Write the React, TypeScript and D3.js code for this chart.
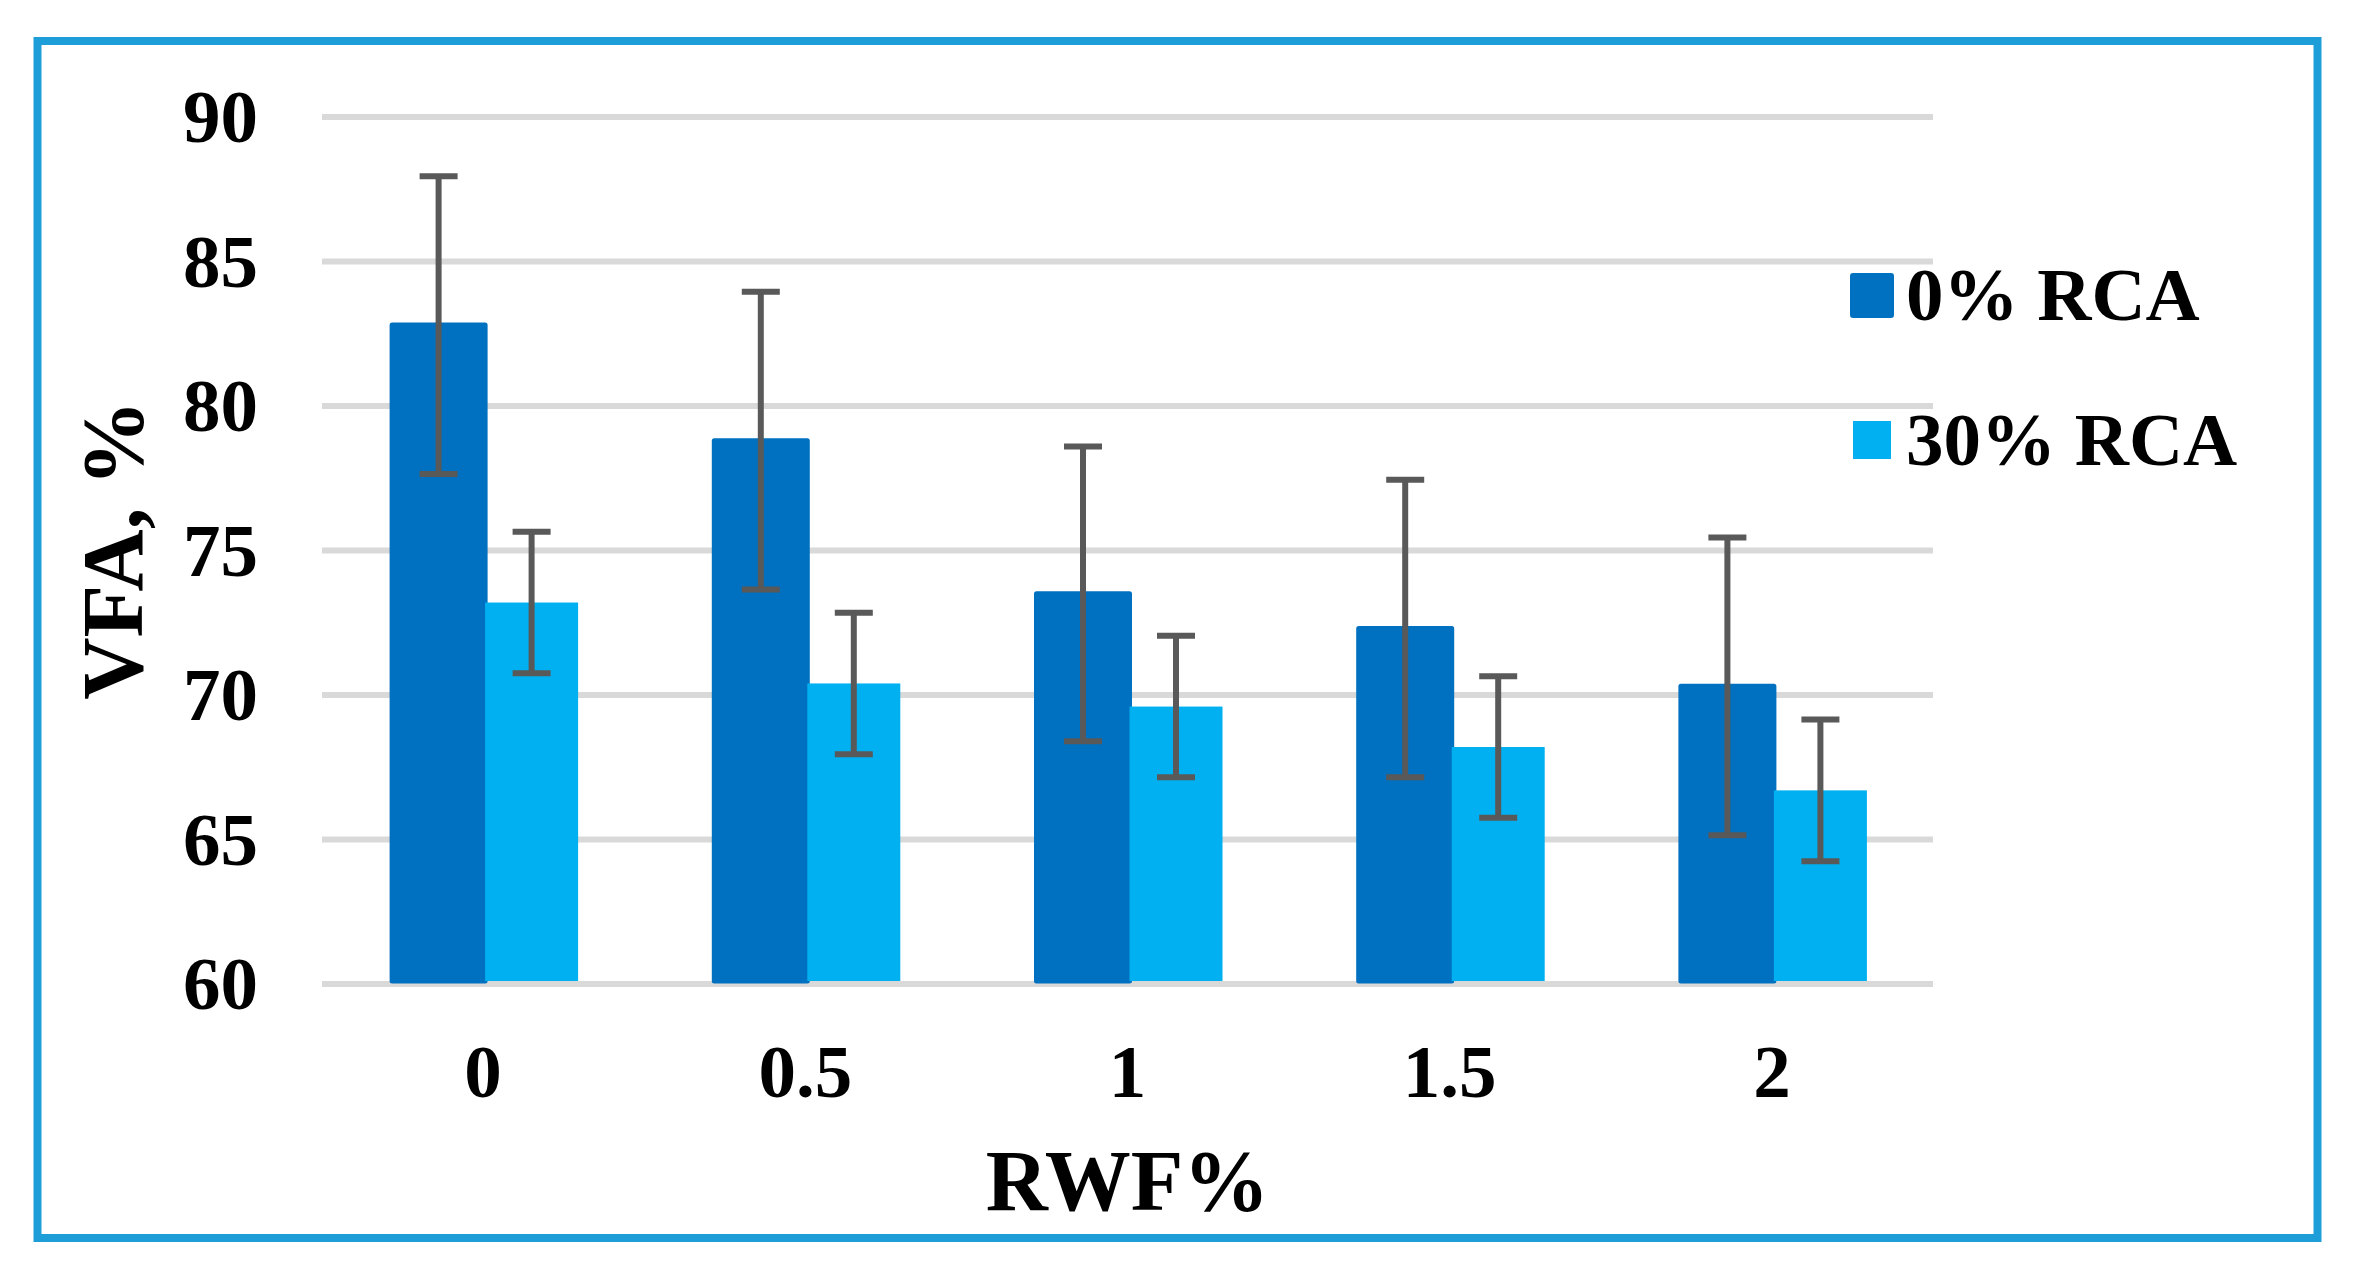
import React from "react";
import * as d3 from "d3";

const categories = ["0", "0.5", "1", "1.5", "2"];
const seriesNames = ["0% RCA", "30% RCA"];
const rca0Values = [82.8, 78.8, 73.5, 72.3, 70.3];
const rca0Errors = [5.15, 5.15, 5.1, 5.15, 5.15];
const rca30Values = [73.2, 70.4, 69.6, 68.2, 66.7];
const rca30Errors = [2.45, 2.45, 2.45, 2.45, 2.45];
const yTicks = [60, 65, 70, 75, 80, 85, 90];

const W = 2353;
const H = 1273;
const colors = ["#0070C0", "#00B0F0"];
const FONT = "'Liberation Serif', 'Times New Roman', serif";

export default function App() {
  const x0 = d3.scaleBand<string>().domain(categories).range([322, 1933]).padding(0);
  const x1 = d3.scaleBand<string>().domain(seriesNames).range([-91, 95]).padding(0);
  const y = d3.scaleLinear().domain([60, 90]).range([984, 117]);
  const bw = x1.bandwidth();
  const values = [rca0Values, rca30Values];
  const errors = [rca0Errors, rca30Errors];
  const center = (c: string) => (x0(c) as number) + x0.bandwidth() / 2;
  const capHalf = 19;

  return (
    <svg
      width={W}
      height={H}
      viewBox={`0 0 ${W} ${H}`}
      style={{ position: "absolute", left: 0, top: 0, background: "#fff" }}
    >
      <rect x={0} y={0} width={W} height={H} fill="#fff" />
      {/* gridlines */}
      {yTicks.map((t) => (
        <line
          key={"g" + t}
          x1={x0.range()[0]}
          x2={x0.range()[1]}
          y1={y(t)}
          y2={y(t)}
          stroke="#D9D9D9"
          strokeWidth={6}
        />
      ))}
      {/* bars */}
      {seriesNames.map((s, si) =>
        categories.map((c, ci) => {
          const bx = center(c) + (x1(s) as number);
          const top = y(values[si][ci]);
          const bottom = y(60) - 3;
          return (
            <rect
              key={s + c}
              x={bx}
              y={top}
              width={bw}
              height={bottom - top}
              fill={colors[si]}
              stroke={si === 0 ? colors[si] : "none"}
              strokeWidth={si === 0 ? 5 : 0}
              strokeLinejoin="round"
            />
          );
        })
      )}
      {/* error bars */}
      {seriesNames.map((s, si) =>
        categories.map((c, ci) => {
          const cx = center(c) + (x1(s) as number) + bw / 2;
          const v = values[si][ci];
          const e = errors[si][ci];
          const yt = y(v + e);
          const yb = y(v - e);
          return (
            <g key={"e" + s + c} stroke="#595959" strokeWidth={6}>
              <line x1={cx} x2={cx} y1={yt} y2={yb} />
              <line x1={cx - capHalf} x2={cx + capHalf} y1={yt} y2={yt} />
              <line x1={cx - capHalf} x2={cx + capHalf} y1={yb} y2={yb} />
            </g>
          );
        })
      )}
      {/* y tick labels */}
      {yTicks.map((t) => (
        <text
          key={"yt" + t}
          x={258}
          y={y(t) + 25}
          textAnchor="end"
          fontFamily={FONT}
          fontWeight="bold"
          fontSize={75}
          fill="#000"
        >
          {t}
        </text>
      ))}
      {/* x tick labels */}
      {categories.map((c) => (
        <text
          key={"xt" + c}
          x={center(c)}
          y={1097}
          textAnchor="middle"
          fontFamily={FONT}
          fontWeight="bold"
          fontSize={75}
          fill="#000"
        >
          {c}
        </text>
      ))}
      {/* axis titles */}
      <text
        x={(x0.range()[0] + x0.range()[1]) / 2}
        y={1210}
        textAnchor="middle"
        fontFamily={FONT}
        fontWeight="bold"
        fontSize={86}
        fill="#000"
      >
        RWF%
      </text>
      <text
        transform={`translate(142, 550) rotate(-90)`}
        textAnchor="middle"
        fontFamily={FONT}
        fontWeight="bold"
        fontSize={86}
        fill="#000"
      >
        VFA, %
      </text>
      {/* legend */}
      <rect x={1850} y={273} width={44} height={45} rx={3} fill={colors[0]} />
      <text x={1906} y={320} fontFamily={FONT} fontWeight="bold" fontSize={75} fill="#000">
        {seriesNames[0]}
      </text>
      <rect x={1853} y={421} width={38} height={38} fill={colors[1]} />
      <text x={1906} y={465} fontFamily={FONT} fontWeight="bold" fontSize={75} fill="#000">
        {seriesNames[1]}
      </text>
      {/* frame */}
      <rect
        x={37.5}
        y={41}
        width={2317.5 - 37.5}
        height={1238 - 41}
        fill="none"
        stroke="#1E9ED8"
        strokeWidth={8}
      />
    </svg>
  );
}
